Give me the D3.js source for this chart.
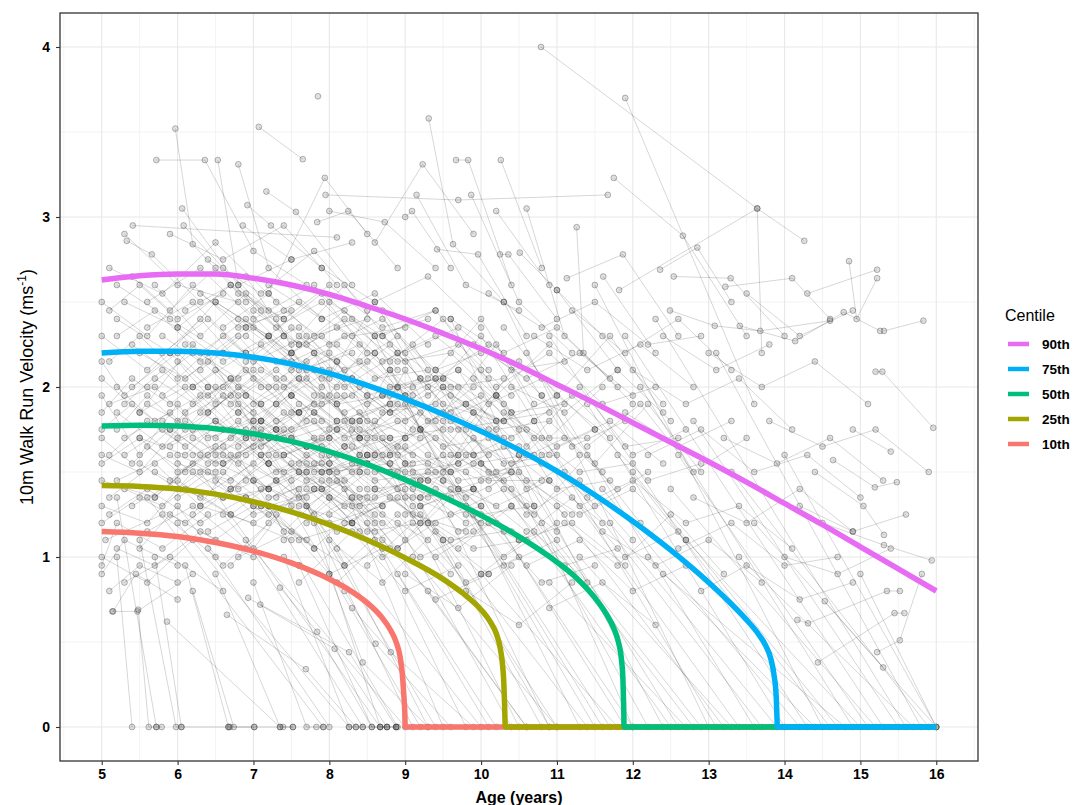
<!DOCTYPE html>
<html>
<head>
<meta charset="utf-8">
<script src="https://cdn.jsdelivr.net/npm/d3@7"></script>
<style>
	body { margin: 0; background: #fff; }
	svg { display: block; font-family: "Liberation Sans", Arial, sans-serif; }
</style>
</head>
<body>
<div id="chart"></div>
<script>
// tick values
var ageTicks = [5, 6, 7, 8, 9, 10, 11, 12, 13, 14, 15, 16];
var velocityTicks = [0, 1, 2, 3, 4];

// centile curves, [age, velocity]
var centile10 = [[5,1.15],[5.5,1.14],[6,1.12],[6.5,1.085],[7,1.035],[7.5,0.965],[8,0.87],[8.25,0.81],[8.5,0.73],[8.7,0.64],[8.8,0.575],[8.88,0.5],[8.93,0.42],[8.96,0.32],[8.98,0.2],[8.995,0.08],[9.0,0],[16,0]];
var centile25 = [[5,1.42],[5.5,1.415],[6,1.4],[6.5,1.37],[7,1.325],[7.5,1.265],[8,1.19],[8.5,1.1],[9,0.995],[9.5,0.87],[9.75,0.79],[10,0.69],[10.12,0.62],[10.2,0.55],[10.25,0.47],[10.28,0.38],[10.3,0.26],[10.31,0.13],[10.32,0],[16,0]];
var centile50 = [[5,1.77],[5.5,1.775],[6,1.77],[6.5,1.755],[7,1.725],[7.5,1.68],[8,1.62],[8.5,1.545],[9,1.455],[9.5,1.355],[10,1.245],[10.5,1.12],[11,0.97],[11.25,0.88],[11.5,0.76],[11.65,0.665],[11.75,0.58],[11.81,0.5],[11.85,0.4],[11.87,0.28],[11.88,0.12],[11.885,0],[16,0]];
var centile75 = [[5,2.2],[5.5,2.21],[6,2.21],[6.5,2.2],[7,2.175],[7.5,2.135],[8,2.08],[8.5,2.01],[9,1.93],[9.5,1.84],[10,1.74],[10.5,1.63],[11,1.505],[11.5,1.365],[12,1.21],[12.5,1.04],[13,0.85],[13.25,0.745],[13.5,0.63],[13.65,0.55],[13.75,0.48],[13.82,0.4],[13.86,0.31],[13.89,0.18],[13.9,0.06],[13.905,0],[16,0]];
var centile90 = [[5,2.63],[5.5,2.655],[6,2.665],[6.5,2.665],[7,2.64],[7.5,2.6],[8,2.545],[8.5,2.475],[9,2.4],[9.5,2.315],[10,2.225],[10.5,2.125],[11,2.015],[11.5,1.905],[12,1.79],[12.5,1.675],[13,1.56],[13.5,1.44],[14,1.315],[14.5,1.19],[15,1.06],[15.5,0.93],[16,0.8]];

var centileNames = ["10th", "25th", "50th", "75th", "90th"];
var centileColors = ["#F8766D", "#A3A500", "#00BF7D", "#00B0F6", "#E76BF3"];

// individual children, each row is age, velocity, age, velocity, ...
var visitsYoung = [
	[5.0,2.3, 5.6,2.1, 6.3,2.4, 7.1,2.0],
	[5.1,1.9, 5.7,2.0, 6.4,1.7, 7.0,1.8, 7.9,1.5],
	[5.0,1.6, 5.5,1.5, 6.1,1.8, 6.9,1.6],
	[5.2,2.6, 5.9,2.4, 6.6,2.2],
	[5.0,1.3, 5.6,1.2, 6.2,1.5, 7.0,1.3, 7.7,1.1],
	[5.3,2.9, 6.0,2.6, 6.8,2.5, 7.5,2.2],
	[5.05,1.1, 5.8,1.25, 6.5,1.0],
	[5.4,2.0, 6.0,2.2, 6.7,1.9, 7.3,2.1, 8.1,1.8],
	[5.0,0.9, 5.3,1.1, 6.0,0.95],
	[5.1,2.15, 5.5,2.3, 6.2,2.0, 6.9,2.2],
	[5.5,1.7, 6.1,1.6, 6.8,1.9, 7.4,1.5, 8.0,1.7],
	[5.2,1.45, 5.9,1.6, 6.6,1.35, 7.2,1.4],
	[5.6,2.5, 6.3,2.7, 7.0,2.4, 7.8,2.6, 8.5,2.2],
	[5.0,1.75, 5.4,1.9, 6.0,1.7, 6.6,2.0, 7.3,1.75],
	[5.3,0.85, 5.9,1.0, 6.6,0.8],
	[5.7,2.05, 6.4,1.85, 7.1,2.1, 7.8,1.9, 8.6,1.6],
	[5.1,2.7, 5.8,2.55, 6.5,2.85, 7.3,2.5],
	[5.4,1.3, 6.0,1.45, 6.7,1.25, 7.5,1.1],
	[5.8,1.8, 6.5,1.55, 7.2,1.7, 8.0,1.45, 8.7,1.3],
	[5.0,2.05, 5.5,1.85, 6.2,2.25, 6.9,1.95],
	[5.6,1.15, 6.2,1.3, 6.9,1.05, 7.6,0.95],
	[5.2,2.4, 5.9,2.2, 6.5,2.5, 7.2,2.3, 7.9,2.0],
	[5.9,2.9, 6.6,2.75, 7.4,2.95, 8.1,2.6],
	[5.3,1.6, 5.8,1.75, 6.4,1.55, 7.1,1.8, 7.7,1.6, 8.4,1.4],
	[5.15,0.68, 5.45,0.9, 6.0,0.75],
	[5.72,3.335, 6.36,3.335, 7.0,2.8, 7.7,2.6],
	[5.97,3.52, 6.2,2.84, 6.9,2.5],
	[5.41,2.95, 8.1,2.88],
	[5.33,2.86, 5.66,2.78, 6.3,2.5],
	[6.08,2.95, 6.6,2.7, 7.2,2.45],
	[6.06,3.05, 6.8,2.6, 7.5,2.75],
	[5.0,1.45, 5.7,1.35, 6.3,1.6, 7.0,1.45, 7.6,1.3, 8.3,1.2],
	[5.5,2.2, 6.1,2.05, 6.8,2.3, 7.5,1.95],
	[5.1,1.25, 5.6,1.4, 6.3,1.2, 6.9,1.35],
	[5.8,1.95, 6.4,2.15, 7.1,1.9, 7.7,2.05, 8.4,1.75, 9.1,1.6],
	[5.2,1.85, 5.8,1.65, 6.5,1.8, 7.2,1.55],
	[5.6,2.35, 6.2,2.5, 6.9,2.2, 7.6,2.35, 8.3,2.05],
	[5.0,1.0, 5.6,0.85, 6.2,1.1],
	[5.3,2.5, 6.0,2.35, 6.7,2.6, 7.4,2.4],
	[5.9,1.45, 6.5,1.65, 7.2,1.4, 7.9,1.55, 8.6,1.25]
];

var visitsMid = [
	[6.5,2.0, 7.1,1.8, 7.8,2.1, 8.5,1.8, 9.2,1.7],
	[6.2,1.6, 6.9,1.75, 7.6,1.5, 8.3,1.65, 9.0,1.35],
	[6.8,2.4, 7.5,2.2, 8.2,2.45, 8.9,2.1],
	[7.0,1.9, 7.6,2.05, 8.3,1.8, 9.0,1.95, 9.7,1.6],
	[6.3,1.3, 7.0,1.2, 7.7,1.4, 8.4,1.15],
	[7.2,2.6, 7.9,2.4, 8.6,2.55, 9.3,2.25],
	[6.6,1.75, 7.2,1.55, 7.9,1.7, 8.6,1.45, 9.4,1.5],
	[7.5,2.2, 8.1,2.0, 8.8,2.25, 9.5,1.9, 10.2,1.8],
	[6.1,2.25, 6.8,2.05, 7.4,2.3, 8.1,2.15],
	[7.8,1.55, 8.4,1.7, 9.1,1.4, 9.8,1.3],
	[6.4,2.75, 7.1,2.55, 7.8,2.8, 8.5,2.45],
	[7.3,1.35, 8.0,1.5, 8.7,1.25, 9.3,1.1],
	[6.9,2.15, 7.5,2.35, 8.2,2.0, 8.9,2.2, 9.6,1.85, 10.3,1.7],
	[8.0,2.5, 8.7,2.3, 9.4,2.45, 10.1,2.1],
	[6.7,1.4, 7.3,1.6, 8.0,1.35, 8.7,1.2],
	[7.6,1.85, 8.2,1.65, 8.9,1.9, 9.6,1.6, 10.3,1.45],
	[6.2,1.9, 6.9,2.1, 7.5,1.85, 8.2,1.95],
	[8.3,2.05, 9.0,1.8, 9.7,2.0, 10.4,1.7],
	[7.1,1.65, 7.8,1.85, 8.5,1.6, 9.2,1.75, 9.9,1.4],
	[6.5,2.5, 7.2,2.3, 7.9,2.55, 8.6,2.3, 9.3,2.4],
	[7.7,1.2, 8.3,1.35, 9.0,1.1],
	[6.0,1.55, 6.7,1.45, 7.4,1.7, 8.0,1.5, 8.8,1.55],
	[8.5,1.6, 9.2,1.45, 9.9,1.6, 10.6,1.3],
	[7.4,2.45, 8.0,2.25, 8.7,2.4, 9.4,2.1, 10.0,2.2],
	[6.8,1.0, 7.5,1.15, 8.2,0.95],
	[8.1,1.9, 8.8,2.1, 9.5,1.8, 10.2,1.95, 10.9,1.6],
	[6.3,2.1, 7.0,2.35, 7.7,2.1, 8.4,2.25, 9.1,1.95],
	[7.9,2.7, 8.6,2.5, 9.3,2.65, 10.0,2.35],
	[7.0,1.45, 7.7,1.3, 8.4,1.5, 9.1,1.25, 9.8,1.15],
	[8.7,2.3, 9.4,2.05, 10.1,2.25, 10.8,1.95],
	[7.84,2.97, 8.25,3.035, 8.9,2.7],
	[7.07,3.53, 7.65,3.34],
	[6.53,3.335, 6.8,2.6, 7.4,2.3],
	[6.8,3.31, 7.2,2.7, 7.9,2.4],
	[7.2,2.55, 7.94,3.23, 8.5,2.9],
	[7.95,3.13, 9.7,3.1, 11.67,3.13],
	[7.17,3.15, 7.56,3.03, 8.3,2.6],
	[6.92,3.07, 7.23,2.95, 7.9,2.7],
	[7.85,3.71],
	[6.86,2.95, 7.5,2.75, 8.3,2.85],
	[8.0,3.035, 8.73,2.97, 9.4,2.7],
	[9.31,3.58, 9.63,2.84, 10.3,2.5],
	[8.6,2.85, 9.23,3.31, 9.9,2.9],
	[9.67,3.335, 9.83,3.335, 10.4,2.6],
	[10.26,3.335, 10.8,2.7],
	[9.15,3.13, 9.8,2.6, 10.5,2.45],
	[9.87,3.13, 10.5,2.5, 11.2,2.2],
	[9.0,3.0, 9.09,3.035, 9.6,2.7],
	[10.2,3.035, 10.9,2.6],
	[9.42,2.81, 9.96,2.78, 10.6,2.3],
	[10.25,2.78, 10.36,2.78, 11.0,2.4]
];

var visitsDense = [
	[5.0,1.55, 5.5,1.7, 6.0,1.5, 6.6,1.65, 7.2,1.4],
	[5.2,2.0, 5.7,1.8, 6.3,1.95, 6.9,1.7, 7.6,1.85],
	[5.5,1.85, 6.1,2.0, 6.7,1.75, 7.3,1.9, 8.0,1.6],
	[5.7,1.5, 6.3,1.35, 7.0,1.55, 7.6,1.35, 8.2,1.45],
	[6.0,2.35, 6.6,2.15, 7.2,2.3, 7.9,2.05, 8.5,2.15],
	[6.2,1.7, 6.8,1.55, 7.4,1.75, 8.1,1.5, 8.8,1.6],
	[6.4,1.95, 7.0,2.1, 7.6,1.85, 8.3,1.95, 9.0,1.7],
	[6.6,1.55, 7.3,1.75, 7.9,1.5, 8.6,1.6, 9.3,1.35],
	[6.9,2.3, 7.5,2.1, 8.1,2.25, 8.8,2.0, 9.5,2.05],
	[7.1,1.8, 7.7,1.65, 8.4,1.85, 9.0,1.55, 9.7,1.6],
	[7.4,1.6, 8.0,1.75, 8.6,1.5, 9.3,1.55, 10.0,1.3],
	[7.6,2.05, 8.2,1.85, 8.9,2.0, 9.6,1.75, 10.3,1.8],
	[7.9,1.4, 8.5,1.55, 9.2,1.3, 9.9,1.4, 10.6,1.15],
	[8.1,1.75, 8.7,1.6, 9.4,1.8, 10.1,1.5, 10.8,1.55],
	[8.4,2.15, 9.0,1.95, 9.7,2.1, 10.4,1.85, 11.1,1.9],
	[8.6,1.35, 9.3,1.5, 10.0,1.25, 10.7,1.3],
	[8.9,1.65, 9.6,1.5, 10.3,1.65, 11.0,1.4, 11.7,1.45],
	[5.3,1.7, 5.9,1.85, 6.5,1.6, 7.1,1.75, 7.8,1.5, 8.5,1.55],
	[5.8,2.2, 6.4,2.4, 7.0,2.15, 7.7,2.3, 8.4,2.0],
	[6.1,1.4, 6.7,1.25, 7.3,1.45, 8.0,1.2, 8.7,1.3],
	[6.7,2.05, 7.3,1.9, 8.0,2.1, 8.7,1.85, 9.4,1.9, 10.1,1.6],
	[7.2,1.25, 7.8,1.4, 8.5,1.15, 9.2,1.2],
	[7.5,1.95, 8.1,1.75, 8.8,1.9, 9.5,1.65, 10.2,1.7],
	[8.0,1.55, 8.6,1.7, 9.3,1.45, 10.0,1.55, 10.7,1.3],
	[8.8,1.85, 9.5,2.0, 10.2,1.75, 10.9,1.8, 11.6,1.5],
	[9.1,1.5, 9.8,1.35, 10.5,1.5, 11.2,1.25],
	[9.4,2.1, 10.1,1.9, 10.8,2.05, 11.5,1.75],
	[5.4,2.25, 6.0,2.05, 6.6,2.3, 7.3,2.05],
	[5.9,1.65, 6.5,1.8, 7.1,1.6, 7.8,1.7, 8.5,1.4],
	[6.3,2.55, 6.9,2.35, 7.6,2.5, 8.3,2.3, 9.0,2.35],
	[6.8,1.65, 7.4,1.85, 8.1,1.6, 8.8,1.7, 9.5,1.45],
	[7.7,2.25, 8.3,2.4, 9.0,2.15, 9.7,2.25, 10.4,1.95],
	[8.2,1.2, 8.9,1.35, 9.6,1.1, 10.3,1.15],
	[9.7,1.75, 10.4,1.55, 11.1,1.7, 11.8,1.4],
	[10.2,2.0, 10.9,2.2, 11.6,1.9, 12.3,2.0],
	[5.1,1.35, 5.7,1.55, 6.3,1.3, 6.9,1.45],
	[6.0,1.8, 6.6,1.95, 7.2,1.7, 7.8,1.8, 8.4,1.55],
	[6.5,1.45, 7.1,1.3, 7.7,1.5, 8.4,1.3, 9.1,1.35],
	[7.3,2.15, 7.9,2.3, 8.6,2.05, 9.3,2.1],
	[8.5,1.95, 9.1,1.75, 9.8,1.9, 10.5,1.6],
	[9.0,1.25, 9.7,1.4, 10.4,1.15],
	[5.6,1.9, 6.2,1.75, 6.8,2.0, 7.5,1.7, 8.2,1.8, 8.9,1.5],
	[6.9,1.35, 7.6,1.5, 8.3,1.3, 9.0,1.4]
];

var visitsExtra = [
	[5.0,1.85, 5.4,2.05, 5.9,1.9, 6.5,2.1, 7.0,1.85],
	[5.0,2.15, 5.3,1.95, 5.9,2.2, 6.4,2.0],
	[5.1,1.6, 5.6,1.8, 6.1,1.65, 6.8,1.85, 7.4,1.6, 8.0,1.7],
	[5.0,1.2, 5.5,1.35, 6.1,1.2, 6.7,1.4],
	[5.2,1.05, 5.7,0.95, 6.3,1.15, 7.0,1.0],
	[5.0,2.5, 5.6,2.3, 6.2,2.6, 6.8,2.35, 7.5,2.45],
	[5.1,0.8, 5.5,0.95, 6.0,0.85],
	[5.0,1.95, 5.5,1.6, 6.0,1.9, 6.6,1.55, 7.3,1.7],
	[5.3,1.4, 5.8,1.3, 6.4,1.5, 7.0,1.25, 7.7,1.35],
	[5.2,2.3, 5.7,2.45, 6.3,2.2, 6.9,2.4, 7.6,2.1, 8.3,2.2],
	[5.5,1.55, 6.0,1.4, 6.6,1.6, 7.2,1.35, 7.9,1.45, 8.6,1.2],
	[5.6,2.0, 6.2,2.2, 6.8,1.95, 7.4,2.15, 8.1,1.9, 8.8,1.95],
	[5.9,1.25, 6.5,1.1, 7.1,1.3, 7.8,1.05],
	[6.0,1.6, 6.5,1.5, 7.1,1.7, 7.7,1.45, 8.4,1.6, 9.1,1.3],
	[6.1,2.45, 6.7,2.6, 7.3,2.35, 7.9,2.5, 8.6,2.2],
	[6.3,1.85, 6.9,1.7, 7.5,1.95, 8.2,1.7, 8.9,1.8, 9.6,1.5],
	[6.4,1.15, 7.0,1.3, 7.6,1.1, 8.3,1.2],
	[6.6,2.2, 7.2,2.0, 7.8,2.2, 8.5,1.95, 9.2,2.05],
	[6.7,1.6, 7.3,1.45, 7.9,1.65, 8.6,1.4, 9.3,1.45, 10.0,1.2],
	[6.9,1.95, 7.5,1.75, 8.1,1.95, 8.8,1.7, 9.5,1.75],
	[7.0,2.45, 7.6,2.25, 8.2,2.4, 8.9,2.15, 9.6,2.2, 10.3,1.9],
	[7.1,1.4, 7.7,1.55, 8.4,1.35, 9.1,1.45, 9.8,1.2],
	[7.3,1.75, 7.9,1.95, 8.5,1.7, 9.2,1.85, 9.9,1.55, 10.6,1.6],
	[7.5,1.3, 8.1,1.15, 8.8,1.35, 9.5,1.1],
	[7.6,2.3, 8.2,2.1, 8.9,2.3, 9.6,2.0, 10.3,2.05],
	[7.8,1.85, 8.4,1.7, 9.1,1.9, 9.8,1.6, 10.5,1.65],
	[8.0,1.25, 8.6,1.4, 9.3,1.2, 10.0,1.3],
	[8.2,2.05, 8.8,1.85, 9.5,2.05, 10.2,1.8, 10.9,1.85],
	[8.4,1.5, 9.0,1.65, 9.7,1.4, 10.4,1.5, 11.1,1.25],
	[8.7,1.95, 9.3,1.8, 10.0,1.95, 10.7,1.7, 11.4,1.7],
	[8.9,1.4, 9.6,1.25, 10.3,1.4, 11.0,1.15],
	[9.2,1.75, 9.9,1.6, 10.6,1.75, 11.3,1.5, 12.0,1.55],
	[9.5,1.45, 10.2,1.3, 10.9,1.45, 11.6,1.2],
	[9.9,2.25, 10.6,2.05, 11.3,2.2, 12.0,1.95],
	[5.0,1.7, 5.4,1.55, 5.9,1.75, 6.4,1.6, 7.0,1.8],
	[5.1,2.45, 5.5,2.6, 6.0,2.4, 6.6,2.55],
	[5.0,0.95, 5.2,1.2, 5.8,1.05, 6.4,1.25],
	[5.2,1.75, 5.6,1.95, 6.1,1.75, 6.7,1.95, 7.3,1.7, 7.9,1.8],
	[5.4,2.65, 5.9,2.45, 6.5,2.7, 7.1,2.45],
	[5.6,1.65, 6.1,1.5, 6.7,1.7, 7.3,1.5, 8.0,1.55],
	[5.8,2.3, 6.3,2.15, 6.9,2.35, 7.5,2.15, 8.2,2.3, 8.9,2.0],
	[6.0,1.35, 6.6,1.5, 7.2,1.3, 7.9,1.4, 8.6,1.15],
	[6.2,2.0, 6.8,1.85, 7.4,2.05, 8.1,1.8, 8.8,1.9],
	[6.5,1.7, 7.1,1.9, 7.7,1.65, 8.4,1.8, 9.1,1.55],
	[6.8,2.55, 7.4,2.4, 8.0,2.6, 8.7,2.35, 9.4,2.45],
	[7.2,1.55, 7.8,1.4, 8.5,1.6, 9.2,1.35, 9.9,1.4],
	[7.4,2.0, 8.0,2.2, 8.7,1.95, 9.4,2.05, 10.1,1.75],
	[7.7,1.65, 8.3,1.5, 9.0,1.7, 9.7,1.45, 10.4,1.5],
	[8.1,2.35, 8.7,2.15, 9.4,2.3, 10.1,2.05],
	[8.3,1.8, 8.9,1.6, 9.6,1.8, 10.3,1.55, 11.0,1.6],
	[8.6,1.1, 9.2,1.25, 9.9,1.05, 10.6,1.1],
	[9.0,2.2, 9.7,2.35, 10.4,2.1, 11.1,2.15],
	[9.3,1.6, 10.0,1.45, 10.7,1.6, 11.4,1.35],
	[9.8,1.25, 10.5,1.1, 11.2,1.2, 11.9,0.95],
	[10.3,1.85, 11.0,1.65, 11.7,1.8, 12.4,1.55],
	[10.7,2.3, 11.4,2.1, 12.1,2.25, 12.8,2.0],
	[5.3,1.9, 5.8,2.1, 6.4,1.85, 7.0,2.05, 7.7,1.8],
	[5.7,1.35, 6.2,1.55, 6.8,1.4, 7.5,1.55, 8.2,1.3],
	[6.1,1.85, 6.7,2.05, 7.3,1.8, 8.0,1.95],
	[6.6,2.35, 7.2,2.55, 7.8,2.3, 8.5,2.4],
	[7.0,1.7, 7.6,1.55, 8.3,1.75, 9.0,1.5, 9.7,1.55],
	[7.9,2.1, 8.5,1.9, 9.2,2.05, 9.9,1.85],
	[8.8,1.55, 9.4,1.7, 10.1,1.45, 10.8,1.45],
	[9.6,1.95, 10.3,1.8, 11.0,1.95, 11.7,1.7]
];

var visitsCore = [
	[7.0,1.05, 7.6,1.4, 8.2,0.95, 8.9,1.25, 9.6,0.9],
	[7.3,2.4, 7.9,1.9, 8.6,2.3, 9.2,1.75, 9.9,2.0],
	[7.6,0.85, 8.3,1.15, 9.0,0.8, 9.7,0.95],
	[7.8,2.2, 8.4,1.6, 9.0,2.1, 9.7,1.55, 10.4,1.85],
	[8.0,1.1, 8.7,0.85, 9.4,1.15, 10.1,0.9],
	[8.2,1.65, 8.8,2.1, 9.5,1.5, 10.2,1.95, 10.9,1.45],
	[8.5,0.95, 9.1,1.2, 9.8,0.85, 10.5,1.0],
	[8.7,2.45, 9.3,2.05, 10.0,2.4, 10.7,1.9],
	[8.9,1.05, 9.6,1.35, 10.3,0.95, 11.0,1.1],
	[9.1,2.25, 9.8,1.75, 10.5,2.15, 11.2,1.65, 11.9,1.8],
	[9.3,1.2, 10.0,0.9, 10.7,1.15, 11.4,0.85],
	[9.5,1.85, 10.2,2.25, 10.9,1.7, 11.6,2.0],
	[9.7,1.05, 10.4,1.3, 11.1,0.95, 11.8,1.05],
	[10.0,1.55, 10.7,1.25, 11.4,1.6, 12.1,1.2],
	[10.3,2.35, 11.0,1.95, 11.7,2.3, 12.4,1.85],
	[10.5,1.1, 11.2,1.35, 11.9,1.0, 12.6,1.15],
	[10.8,1.95, 11.5,1.55, 12.2,1.9, 12.9,1.5],
	[11.1,1.2, 11.8,0.95, 12.5,1.25, 13.2,0.9],
	[11.4,1.65, 12.1,1.9, 12.8,1.5, 13.5,1.7],
	[6.2,1.25, 6.8,1.6, 7.4,1.15, 8.1,1.45, 8.8,1.05],
	[6.4,2.2, 7.0,1.75, 7.7,2.15, 8.4,1.7, 9.1,2.0],
	[6.7,0.95, 7.3,1.25, 8.0,0.9, 8.7,1.05],
	[6.9,2.65, 7.5,2.25, 8.2,2.6, 8.9,2.2],
	[7.2,1.3, 7.8,1.05, 8.5,1.35, 9.2,1.0, 9.9,1.15],
	[7.5,1.7, 8.1,2.15, 8.8,1.6, 9.5,2.0, 10.2,1.5],
	[7.7,1.5, 8.3,1.2, 9.0,1.55, 9.7,1.15, 10.4,1.3],
	[8.0,2.05, 8.6,2.5, 9.3,1.95, 10.0,2.3, 10.7,1.8],
	[8.3,1.35, 8.9,1.05, 9.6,1.4, 10.3,1.0, 11.0,1.2],
	[8.6,1.8, 9.2,1.45, 9.9,1.85, 10.6,1.4, 11.3,1.6],
	[8.8,2.15, 9.5,2.4, 10.2,1.95, 10.9,2.25],
	[9.2,1.35, 9.9,1.7, 10.6,1.25, 11.3,1.45, 12.0,1.1],
	[9.4,1.0, 10.1,1.2, 10.8,0.85, 11.5,0.95],
	[9.9,2.05, 10.6,1.65, 11.3,2.0, 12.0,1.6, 12.7,1.75],
	[10.1,1.4, 10.8,1.7, 11.5,1.3, 12.2,1.5],
	[10.6,0.95, 11.3,1.1, 12.0,0.8, 12.7,0.95],
	[5.5,1.05, 6.0,1.3, 6.6,0.95, 7.2,1.2],
	[5.7,2.6, 6.3,2.3, 6.9,2.55, 7.6,2.25],
	[5.9,1.75, 6.4,2.0, 7.0,1.65, 7.6,1.9, 8.3,1.55],
	[6.0,2.15, 6.5,1.9, 7.1,2.25, 7.8,1.95],
	[6.6,1.35, 7.2,1.6, 7.8,1.25, 8.5,1.5, 9.2,1.2],
	[7.4,1.1, 8.0,1.35, 8.7,1.0, 9.4,1.2],
	[8.1,0.85, 8.7,1.1, 9.4,0.75, 10.1,0.9],
	[9.0,0.9, 9.7,0.7, 10.4,0.95],
	[9.8,0.8, 10.5,0.6, 11.2,0.85],
	[10.9,0.7, 11.6,0.85, 12.3,0.6]
];

var visitsLate = [
	[10.79,4.0, 13.64,3.05, 14.26,2.86],
	[11.9,3.7, 13.6,1.9],
	[11.75,3.23, 12.66,2.89, 13.5,2.3],
	[10.6,3.05, 11.1,2.3, 11.8,2.0],
	[11.26,2.94, 11.35,2.2, 12.0,1.9],
	[11.13,2.64, 11.87,2.78, 12.6,2.3],
	[10.51,2.79, 11.0,2.57, 11.8,2.1],
	[11.61,2.65, 12.3,2.2],
	[11.82,2.57, 13.64,3.05, 13.7,2.2],
	[12.36,2.69, 12.85,2.82, 13.3,2.5],
	[12.54,2.65, 13.29,2.64, 14.0,2.3],
	[13.22,2.59, 14.1,2.64, 14.6,2.4],
	[14.3,2.55, 15.22,2.69],
	[14.85,2.74, 14.95,2.4, 15.22,2.64],
	[11.0,2.57, 11.6,2.3, 12.4,1.9],
	[12.49,2.45, 13.08,2.36, 13.68,2.33, 14.6,2.39],
	[13.41,2.36, 14.14,2.27, 14.78,2.44, 15.26,2.33],
	[15.31,2.33, 15.83,2.39],
	[15.2,2.09, 15.29,2.09, 15.96,1.76],
	[14.9,1.75, 15.4,1.62],
	[14.64,1.57, 15.19,1.41, 15.48,1.44],
	[14.4,1.5, 15.04,1.3, 15.31,1.13],
	[14.5,1.2, 15.31,1.07, 15.94,0.98],
	[15.22,0.44, 15.52,0.51, 15.81,0.9],
	[14.53,0.74, 15.3,0.35],
	[14.17,0.63, 14.31,0.61, 15.35,0.8, 15.52,0.8],
	[14.44,0.38, 15.45,0.67, 15.58,0.67],
	[12.0,2.1, 12.7,1.9, 13.4,2.05, 14.1,1.75],
	[12.2,1.6, 12.9,1.75, 13.6,1.5, 14.3,1.6, 15.0,1.35],
	[10.4,2.0, 11.1,1.85, 11.8,2.1, 12.5,1.8],
	[10.8,1.6, 11.5,1.75, 12.2,1.45, 12.9,1.55],
	[11.3,1.3, 12.0,1.45, 12.7,1.2, 13.4,1.3, 14.1,1.05],
	[12.6,1.05, 13.3,1.2, 14.0,0.95, 14.7,1.0],
	[13.0,2.2, 13.7,2.0, 14.4,2.15, 15.1,1.9],
	[9.6,2.4, 10.3,2.2, 11.0,2.35, 11.7,2.05],
	[10.1,2.55, 10.8,2.35, 11.5,2.5, 12.2,2.25, 12.9,2.3],
	[13.8,1.8, 14.5,1.65, 15.2,1.75, 15.9,1.5],
	[11.6,1.15, 12.3,0.95, 13.0,1.1, 13.7,0.85],
	[14.2,1.3, 14.9,1.15, 15.6,1.25],
	[12.9,0.8, 13.5,0.95, 14.2,0.75, 14.9,0.85],
	[9.8,1.9, 10.5,1.75, 11.2,1.95, 11.9,1.65, 12.6,1.7],
	[13.5,2.55, 14.2,2.3, 14.9,2.45],
	[10.6,1.45, 11.3,1.25, 12.0,1.4, 12.7,1.1],
	[11.2,2.45, 11.9,2.2, 12.6,2.4, 13.3,2.1],
	[12.4,2.3, 13.1,2.1, 13.8,2.25],
	[13.2,1.7, 13.9,1.55, 14.6,1.7, 15.3,1.45],
	[12.8,1.35, 13.5,1.2, 14.2,1.4, 14.9,1.15],
	[11.9,1.85, 12.6,1.65, 13.3,1.8],
	[14.0,1.0, 14.7,0.9, 15.4,1.05]
];

var visitsLost = [
	[5.2,1.0, 5.4,0],
	[5.48,0.69, 5.62,0, 5.72,0],
	[5.5,1.1, 5.98,0, 6.05,0],
	[5.2,1.35, 5.72,0, 5.79,0],
	[6.1,0.95, 6.67,0, 6.69,0],
	[6.2,0.8, 6.74,0, 7.01,0],
	[6.5,0.9, 7.35,0, 7.39,0, 7.52,0],
	[7.0,0.85, 7.7,0, 7.83,0, 7.92,0],
	[7.4,1.0, 8.26,0, 8.35,0, 8.44,0],
	[7.6,0.95, 8.56,0, 8.67,0, 8.76,0, 8.88,0],
	[7.8,1.2, 8.67,0, 8.88,0],
	[6.9,1.1, 8.44,0, 8.76,0],
	[5.7,1.0, 6.05,0, 6.67,0, 7.01,0, 7.52,0],
	[8.2,1.4, 9.5,0],
	[8.5,1.2, 9.8,0],
	[7.9,1.6, 10.2,0],
	[8.8,1.5, 10.5,0],
	[9.2,1.3, 10.8,0],
	[8.4,1.8, 11.0,0],
	[9.5,1.6, 11.3,0],
	[9.0,1.9, 11.6,0],
	[9.8,1.5, 11.9,0],
	[10.1,1.7, 12.2,0],
	[9.3,2.0, 12.5,0],
	[10.4,1.4, 12.8,0],
	[10.7,1.8, 13.1,0],
	[10.0,2.1, 13.4,0],
	[11.1,1.5, 13.7,0],
	[11.4,1.9, 14.0,0],
	[10.9,2.3, 14.3,0],
	[11.8,1.6, 14.6,0],
	[12.1,2.0, 14.9,0],
	[12.5,1.4, 15.2,0],
	[12.8,1.8, 15.5,0],
	[13.1,2.2, 15.8,0],
	[13.6,1.2, 16.0,0],
	[14.0,1.6, 16.0,0],
	[15.0,0.9, 16.0,0],
	[6.65,0.66, 7.69,0.34, 8.35,0],
	[7.35,0.82, 7.84,0.56, 8.56,0],
	[6.93,0.76, 8.07,0.46, 8.76,0],
	[7.09,0.72, 8.26,0.44, 8.88,0],
	[8.0,0.9, 8.44,0.38, 9.3,0],
	[8.2,0.8, 8.61,0.49, 9.6,0],
	[8.3,0.7, 8.81,0.44, 9.9,0],
	[5.86,0.62, 7.35,0],
	[5.14,0.68, 5.47,0.68, 6.2,0.9],
	[5.6,1.35, 7.92,0],
	[6.0,1.2, 8.26,0],
	[6.3,1.5, 8.67,0],
	[6.6,1.25, 9.0,0],
	[7.1,1.6, 9.2,0],
	[7.5,1.45, 9.4,0],
	[6.8,1.8, 10.0,0],
	[7.3,2.0, 10.6,0],
	[8.6,2.2, 11.5,0],
	[9.6,2.4, 12.0,0],
	[10.3,2.5, 13.0,0],
	[11.5,2.6, 14.5,0],
	[12.3,2.4, 15.6,0],
	[9.1,1.0, 11.0,0],
	[7.7,1.3, 9.1,0],
	[8.1,1.05, 9.3,0],
	[8.9,1.2, 10.4,0],
	[9.4,1.4, 10.9,0],
	[9.9,1.25, 11.7,0],
	[10.5,1.6, 12.4,0],
	[10.2,1.2, 12.0,0],
	[11.0,1.3, 13.2,0],
	[11.7,1.2, 13.9,0],
	[12.0,1.5, 14.7,0],
	[12.7,1.1, 15.0,0],
	[13.3,1.5, 15.9,0],
	[8.7,1.7, 10.9,0],
	[9.7,2.1, 12.6,0],
	[10.6,2.2, 13.6,0],
	[11.9,2.3, 15.3,0],
	[7.2,1.3, 8.9,0],
	[6.4,1.05, 8.0,0],
	[8.9,0.9, 10.1,0],
	[9.3,0.8, 10.6,0],
	[10.8,1.2, 12.9,0],
	[11.3,1.0, 13.3,0],
	[11.6,1.4, 14.2,0],
	[12.2,1.0, 14.4,0],
	[12.6,1.6, 15.1,0],
	[13.4,1.0, 15.7,0],
	[9.5,1.1, 11.4,0],
	[10.0,0.9, 11.8,0],
	[10.9,0.85, 12.7,0],
	[12.4,0.9, 14.8,0]
];

// layout, matched to the reference picture
var width = 1073, height = 805;
var panel = { left: 60, right: 978, top: 13, bottom: 761 };

var svg = d3.select("#chart").append("svg")
	.attr("width", width)
	.attr("height", height);

var x = d3.scaleLinear().domain([4.45, 16.55]).range([panel.left, panel.right]);
var y = d3.scaleLinear().domain([-0.2, 4.2]).range([panel.bottom, panel.top]);

// grid
var grid = svg.append("g");
var minorX = d3.range(4.5, 16.6, 1), minorY = [0.5, 1.5, 2.5, 3.5];
grid.selectAll(".mx").data(minorX).enter().append("line")
	.attr("x1", function(d) { return x(d); }).attr("x2", function(d) { return x(d); })
	.attr("y1", panel.top).attr("y2", panel.bottom)
	.attr("stroke", "#f0f0f0").attr("stroke-width", 0.8);
grid.selectAll(".my").data(minorY).enter().append("line")
	.attr("y1", function(d) { return y(d); }).attr("y2", function(d) { return y(d); })
	.attr("x1", panel.left).attr("x2", panel.right)
	.attr("stroke", "#f0f0f0").attr("stroke-width", 0.8);
grid.selectAll(".gx").data(ageTicks).enter().append("line")
	.attr("x1", function(d) { return x(d); }).attr("x2", function(d) { return x(d); })
	.attr("y1", panel.top).attr("y2", panel.bottom)
	.attr("stroke", "#e8e8e8").attr("stroke-width", 1.1);
grid.selectAll(".gy").data(velocityTicks).enter().append("line")
	.attr("y1", function(d) { return y(d); }).attr("y2", function(d) { return y(d); })
	.attr("x1", panel.left).attr("x2", panel.right)
	.attr("stroke", "#e8e8e8").attr("stroke-width", 1.1);

// individual trajectories
var subjects = [].concat(visitsYoung, visitsMid, visitsDense, visitsExtra, visitsCore, visitsLate, visitsLost);
var tracks = subjects.map(function(s) {
	return d3.range(0, s.length, 2).map(function(i) { return { age: s[i], v: s[i + 1] }; });
});

var line = d3.line()
	.x(function(d) { return x(d.age); })
	.y(function(d) { return y(d.v); });

svg.append("g").selectAll("path")
	.data(tracks).enter()
	.append("path")
		.attr("d", line)
		.attr("fill", "none")
		.attr("stroke", "rgba(0,0,0,0.23)")
		.attr("stroke-width", 0.7);

var allPoints = [].concat.apply([], tracks);
svg.append("g").selectAll("circle")
	.data(allPoints).enter()
	.append("circle")
		.attr("cx", function(d) { return x(d.age); })
		.attr("cy", function(d) { return y(d.v); })
		.attr("r", 2.9)
		.attr("fill", "rgba(70,70,70,0.17)")
		.attr("stroke", "rgba(30,30,30,0.38)")
		.attr("stroke-width", 0.8);

// centile curves
var centiles = [centile10, centile25, centile50, centile75, centile90];
var centileLine = d3.line()
	.x(function(d) { return x(d[0]); })
	.y(function(d) { return y(d[1]); })
	.curve(d3.curveMonotoneX);

svg.append("g").selectAll("path")
	.data(centiles).enter()
	.append("path")
		.attr("d", centileLine)
		.attr("fill", "none")
		.attr("stroke", function(d, i) { return centileColors[i]; })
		.attr("stroke-width", 5.5);

// panel border
svg.append("rect")
	.attr("x", panel.left).attr("y", panel.top)
	.attr("width", panel.right - panel.left).attr("height", panel.bottom - panel.top)
	.attr("fill", "none").attr("stroke", "#333").attr("stroke-width", 1.3);

// axes
var xAxis = svg.append("g")
	.attr("transform", "translate(0," + panel.bottom + ")")
	.call(d3.axisBottom(x).tickValues(ageTicks).tickSize(4).tickPadding(4).tickFormat(d3.format("d")));
var yAxis = svg.append("g")
	.attr("transform", "translate(" + panel.left + ",0)")
	.call(d3.axisLeft(y).tickValues(velocityTicks).tickSize(4).tickPadding(6).tickFormat(d3.format("d")));

[xAxis, yAxis].forEach(function(g) {
	g.select(".domain").remove();
	g.selectAll(".tick line").attr("stroke", "#333").attr("stroke-width", 1.1);
	g.selectAll(".tick text")
		.attr("fill", "#000")
		.style("font-family", "'Liberation Sans', Arial, sans-serif")
		.style("font-size", "14px")
		.style("font-weight", "bold");
});

// axis titles
svg.append("text")
	.attr("x", (panel.left + panel.right) / 2)
	.attr("y", 803)
	.attr("text-anchor", "middle")
	.style("font-size", "16px")
	.style("font-weight", "bold")
	.text("Age (years)");

var yTitle = svg.append("text")
	.attr("transform", "translate(33," + ((panel.top + panel.bottom) / 2) + ") rotate(-90)")
	.attr("text-anchor", "middle")
	.style("font-size", "18px");
yTitle.append("tspan").text("10m Walk Run Velocity  (ms");
yTitle.append("tspan").attr("baseline-shift", "super").style("font-size", "12px").text("-1");
yTitle.append("tspan").text(")");

// legend
var legend = svg.append("g").attr("transform", "translate(1005,0)");
legend.append("text")
	.attr("x", 0).attr("y", 321)
	.style("font-size", "16px")
	.text("Centile");
var legendOrder = [4, 3, 2, 1, 0];
var keys = legend.selectAll(".key")
	.data(legendOrder).enter()
	.append("g")
		.attr("transform", function(d, i) { return "translate(0," + (344 + i * 25) + ")"; });
keys.append("line")
	.attr("x1", 3).attr("x2", 24)
	.attr("stroke", function(d) { return centileColors[d]; })
	.attr("stroke-width", 4.5);
keys.append("text")
	.attr("x", 37).attr("y", 5)
	.style("font-size", "13.5px")
	.style("font-weight", "bold")
	.text(function(d) { return centileNames[d]; });
</script>
</body>
</html>
